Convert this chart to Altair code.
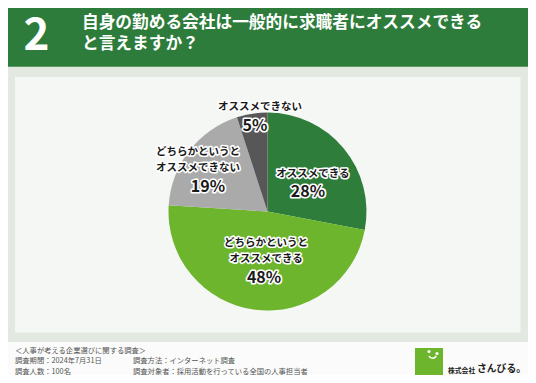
import altair as alt
import pandas as pd

# ---------------- data ----------------
question_no = "2"
title_lines = ["自身の勤める会社は一般的に求職者にオススメできる", "と言えますか？"]
categories = ["オススメできる", "どちらかというと\nオススメできる",
              "どちらかというと\nオススメできない", "オススメできない"]
values = [28, 48, 19, 5]
colors = ["#2e7d3a", "#6cb52c", "#aaaaaa", "#575757"]
footer_left = ["＜人事が考える企業選びに関する調査＞", "調査期間：2024年7月31日", "調査人数：100名"]
footer_right = ["", "調査方法：インターネット調査", "調査対象者：採用活動を行っている全国の人事担当者"]
company_small = "株式会社"
company_name = "さんびる。"

# ---------------- layout (styling, not data) ----------------
W, H = 520, 367
CX, CY, R = 259.5, 203.5, 99
FONT = "Noto Sans CJK JP"
pct_radius = [44.8, 66.3, 64.5, 86.7]
pct_shift_deg = [14.2, -4.2, -15.2, 0.7]
cat_dx = [5, 2, -10, 5]

df = pd.DataFrame({"category": categories, "value": values, "idx": list(range(len(values)))})
df["pct"] = [f"{v}%" for v in values]
df["line2"] = [c.split("\n")[-1] for c in categories]
df["line1"] = [c.split("\n")[0] if "\n" in c else "" for c in categories]

base = alt.Chart(df)


def rect(x, x2, y, y2, color):
    return alt.Chart(pd.DataFrame({"k": [0]})).mark_rect(color=color).encode(
        x=alt.value(x), x2=alt.value(x2), y=alt.value(y), y2=alt.value(y2))


def text_at(txt, x, y, **kw):
    return alt.Chart(pd.DataFrame({"t": [txt]})).mark_text(font=FONT, **kw).encode(
        x=alt.value(x), y=alt.value(y), text="t:N")


bg = [
    rect(0, W, 0, 58, "#2d7c3b"),
    rect(0, W, 58, 59, "#5e9a68"),
    rect(0, W, 59, 334, "#e3e8e1"),
    rect(7, 512.5, 69, 324.5, "#f5f7f4"),
]

pie = base.mark_arc(outerRadius=R).encode(
    theta=alt.Theta("value:Q", stack=True),
    color=alt.Color("category:N", scale=alt.Scale(domain=categories, range=colors), legend=None),
    order=alt.Order("idx:Q"),
    x=alt.value(CX), y=alt.value(CY),
)

lab = base.transform_joinaggregate(total="sum(value)").transform_window(
    cum="sum(value)", sort=[alt.SortField("idx")], frame=[None, 0]
).transform_calculate(
    mid=f"2*PI*(datum.cum - datum.value/2)/datum.total + {pct_shift_deg}[datum.idx]*PI/180",
    r=f"{pct_radius}[datum.idx]",
).transform_calculate(
    px=f"{CX} + datum.r*sin(datum.mid)",
    py=f"{CY} - datum.r*cos(datum.mid)",
).transform_calculate(
    cx=f"datum.px + {cat_dx}[datum.idx]",
    cy2="datum.py - 18.6",
    cy1="datum.py - 34.6",
)


def xy(xf, yf):
    return dict(x=alt.X(f"{xf}:Q", scale=None, axis=None), y=alt.Y(f"{yf}:Q", scale=None, axis=None))


def halo_pair(src, field, size, pos):
    common = dict(font=FONT, fontSize=size, fontWeight="bold", baseline="middle")
    h = src.mark_text(stroke="white", strokeWidth=3.2, strokeJoin="round", color="white", **common).encode(
        text=f"{field}:N", **pos)
    t = src.mark_text(color="#1a1a1a", **common).encode(text=f"{field}:N", **pos)
    return [h, t]


labels = (halo_pair(lab, "pct", 16, xy("px", "py"))
          + halo_pair(lab, "line2", 10.5, xy("cx", "cy2"))
          + halo_pair(lab, "line1", 10.5, xy("cx", "cy1")))

header = [
    text_at(question_no, 28.5, 29, fontSize=44, fontWeight="bold", color="white",
            align="center", baseline="middle"),
    text_at(title_lines[0], 74, 15, fontSize=16.7, fontWeight="bold", color="white",
            align="left", baseline="middle"),
    text_at(title_lines[1], 74, 36, fontSize=16.7, fontWeight="bold", color="white",
            align="left", baseline="middle"),
]

footer = []
for i, (a, b) in enumerate(zip(footer_left, footer_right)):
    yy = 342.8 + 10.5 * i
    footer.append(text_at(a, 7, yy, fontSize=7.3, color="#555555", align="left", baseline="middle"))
    if b:
        footer.append(text_at(b, 125, yy, fontSize=7.3, color="#555555", align="left", baseline="middle"))

logo_sq = rect(407, 435, 340, 369, "#6cb52c")
eyes = alt.Chart(pd.DataFrame({"k": [0]})).mark_point(filled=True, color="white", size=10, opacity=1).encode(
    x=alt.value(421), y=alt.value(343.5))
eyes2 = alt.Chart(pd.DataFrame({"k": [0]})).mark_point(filled=True, color="white", size=10, opacity=1).encode(
    x=alt.value(429), y=alt.value(345.5))
smile = alt.Chart(pd.DataFrame({"k": [0]})).mark_arc(innerRadius=3, outerRadius=4.6, color="white").encode(
    theta=alt.value(1.9), theta2=alt.value(4.3), x=alt.value(424.5), y=alt.value(346.5))
logo_txt = [
    text_at(company_small, 440, 362.5, fontSize=6.8, fontWeight="bold", color="#222222",
            align="left", baseline="middle"),
    text_at(company_name, 469, 360.5, fontSize=9.8, fontWeight="bold", color="#222222",
            align="left", baseline="middle"),
]

chart = alt.layer(
    *bg, pie, *labels, *header, *footer,
    logo_sq, eyes, eyes2, smile, *logo_txt
).properties(
    width=W, height=H, padding=0, autosize=alt.AutoSizeParams(type="none"),
    background="#fafbfa",
).configure_view(stroke=None)

chart.save("out.html", embed_options={"renderer": "svg", "actions": False})
